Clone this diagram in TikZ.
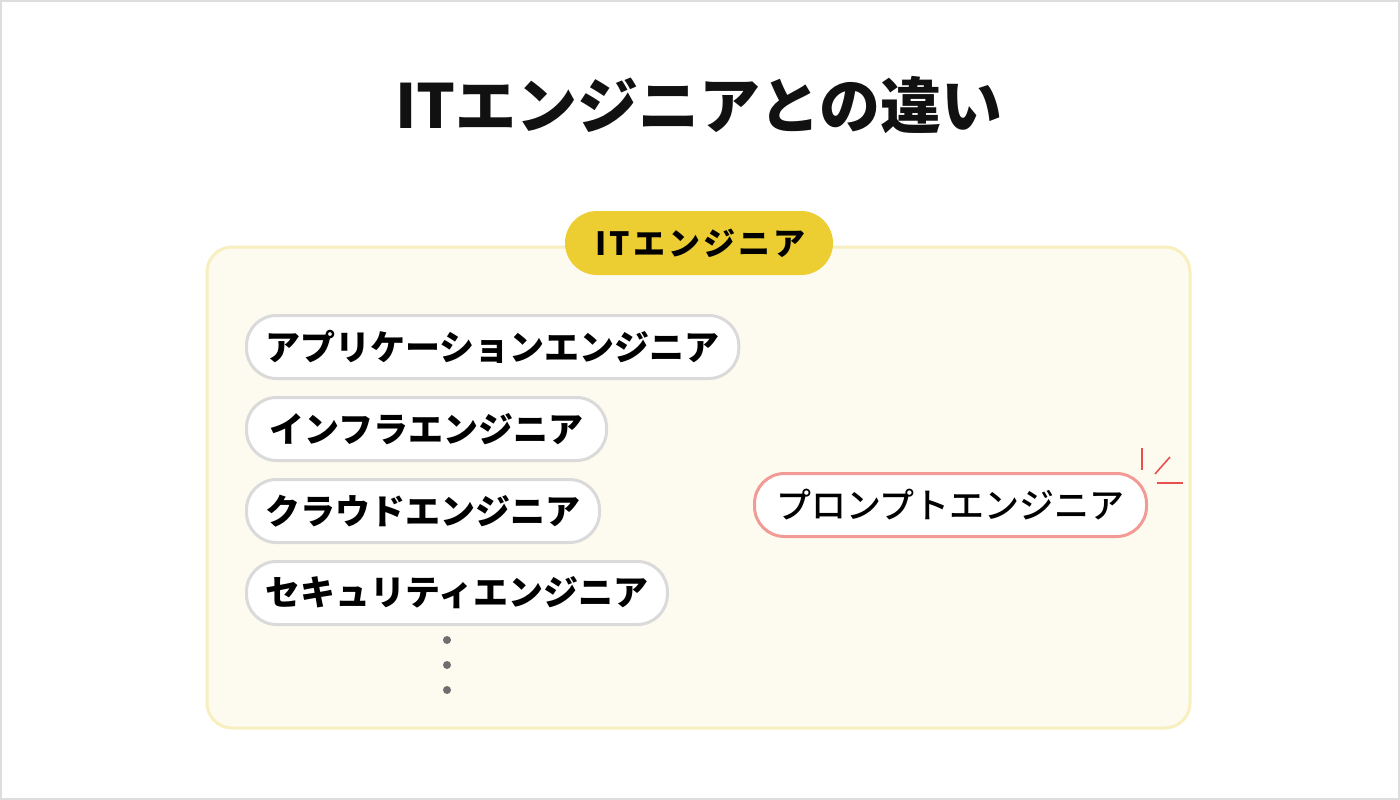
\documentclass[tikz,border=0pt]{standalone}
\usepackage{fontspec}
\setmainfont{Noto Sans CJK JP}
\newfontfamily\spacedfont{Noto Sans CJK JP}[LetterSpace=10]
\newfontfamily\promptfont{Noto Sans CJK JP Medium}
\usepackage{tikz}
\definecolor{framegray}{RGB}{221,221,221}
\definecolor{pillgray}{RGB}{218,218,218}
\definecolor{itboxfill}{RGB}{253,251,239}
\definecolor{itboxline}{RGB}{248,239,192}
\definecolor{ityellow}{RGB}{236,206,50}
\definecolor{promptpink}{RGB}{242,154,150}
\definecolor{sparkred}{RGB}{232,80,80}
\definecolor{dotgray}{RGB}{110,110,110}
\definecolor{titleblack}{RGB}{17,17,17}
\newcommand{\pilltext}{\fontsize{35}{35}\selectfont}

\begin{document}
\begin{tikzpicture}[x=1pt,y=-1pt,
    pill/.style={draw=pillgray, fill=white, line width=3pt,
      rounded corners=30pt, minimum height=63pt, inner xsep=19pt,
      anchor=west, font=\pilltext\bfseries},
    spark/.style={draw=sparkred, line width=1.6pt}]
	\useasboundingbox (0,0) rectangle (1400,800);
	\draw[framegray, line width=2pt] (1,1) rectangle (1399,799);

	\node[text=titleblack] (title) at (699,105) {\fontsize{61}{61}\selectfont\bfseries ITエンジニアとの違い};

	% the big IT box
	\draw[draw=itboxline, fill=itboxfill, line width=3pt, rounded corners=25pt]
		(207,247) rectangle (1190,728);
	\node[fill=ityellow, rounded corners=32pt, minimum height=64pt,
		  minimum width=268pt, font=\fontsize{32}{32}\spacedfont\bfseries]
		(ithead) at (699,243) {\hspace{3pt}ITエンジニア};

	\node[pill] (app)      at (245,347) {アプリケーションエンジニア};
	\node[pill, minimum width=360pt] (infra) at (245,429) {インフラエンジニア};
	\node[pill] (cloud)    at (245,511) {クラウドエンジニア};
	\node[pill] (security) at (245,593) {セキュリティエンジニア};

	\foreach \y in {640,665,690}
		\fill[dotgray] (447,\y) circle (4pt);

	\node[pill, draw=promptpink, font=\pilltext\promptfont, minimum width=392pt]
		(prompt) at (753,505) {プロンプトエンジニア};
	\draw[spark] (1142,448) -- (1142,470);
	\draw[spark] (1155,474) -- (1170,457);
	\draw[spark] (1157,483) -- (1183,483);
\end{tikzpicture}
\end{document}
